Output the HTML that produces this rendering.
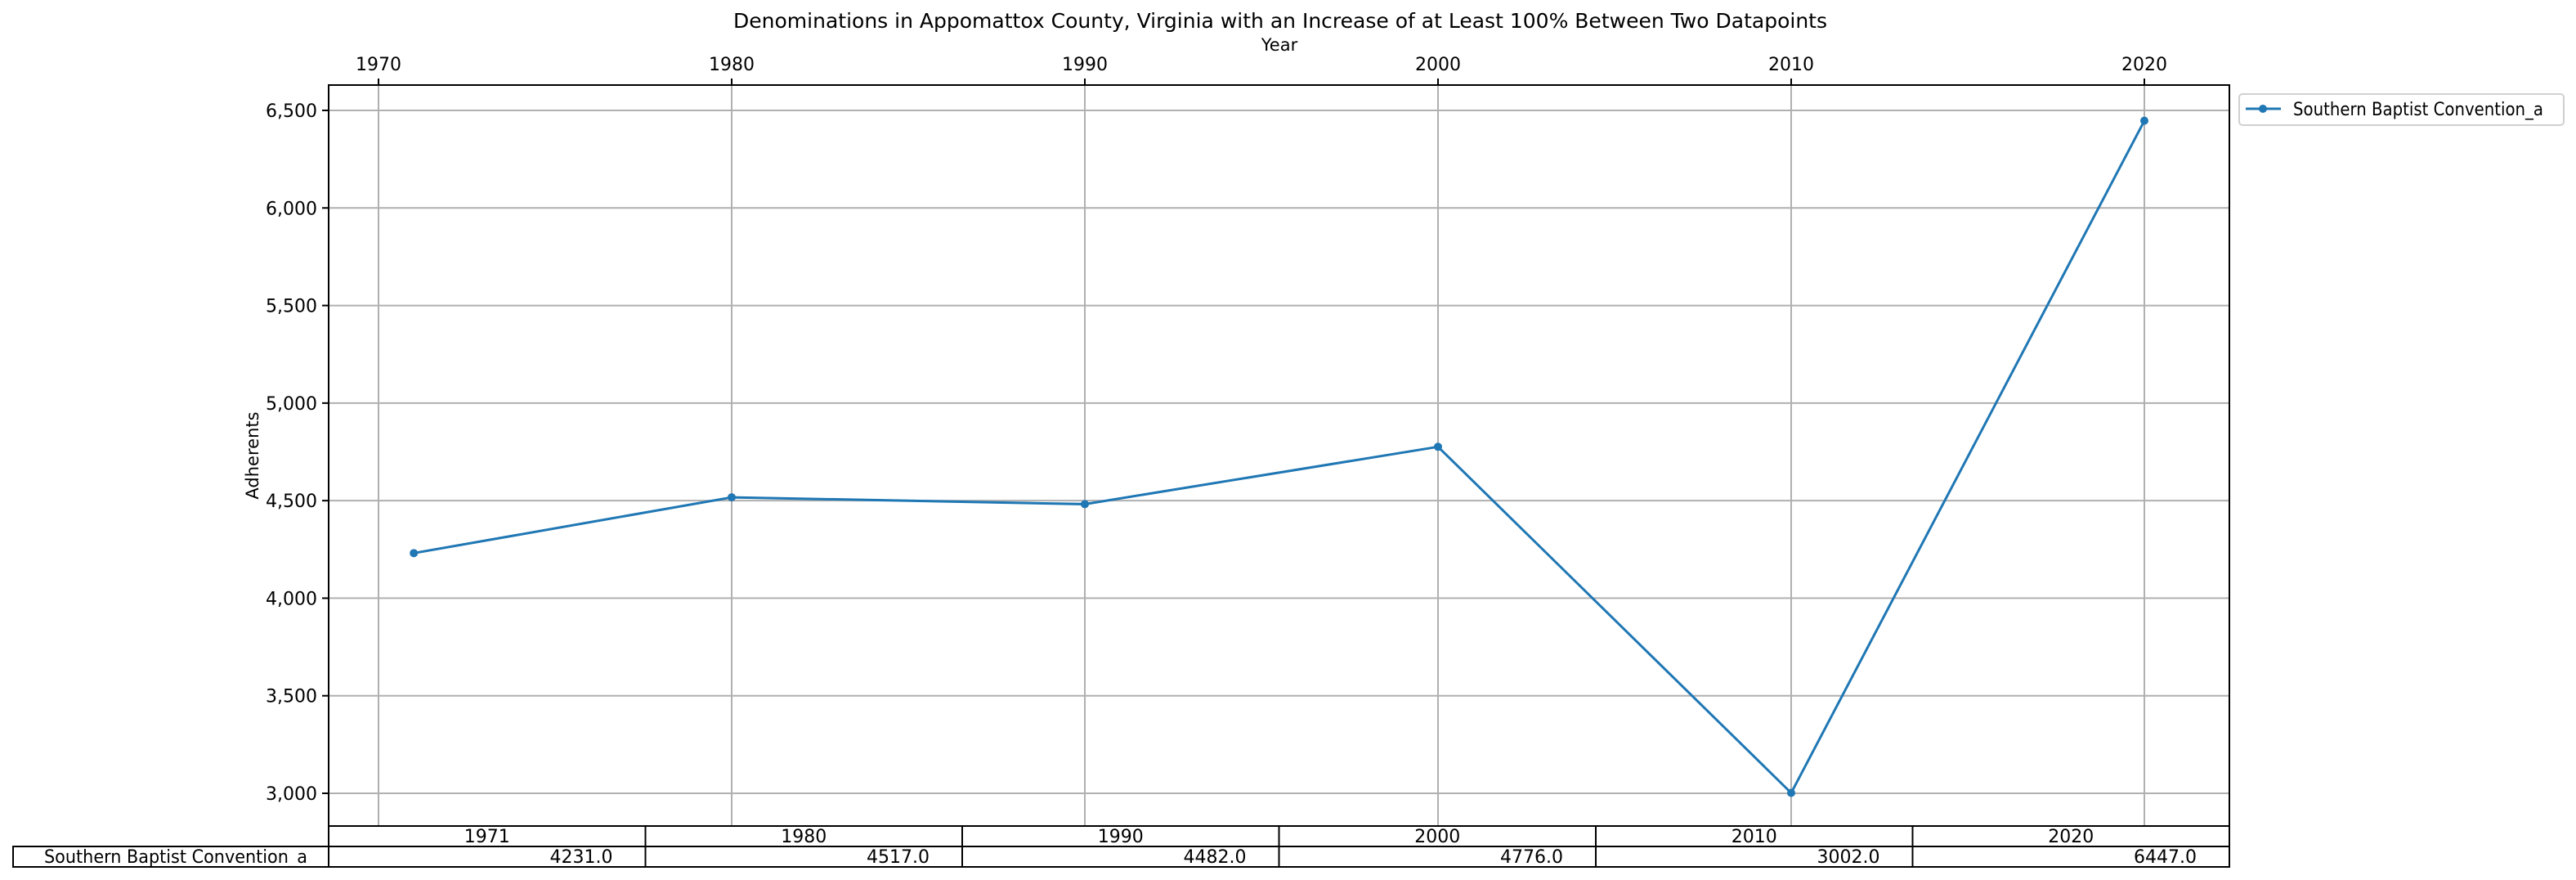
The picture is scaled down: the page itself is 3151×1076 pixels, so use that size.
<!DOCTYPE html>
<html><head><meta charset="utf-8"><style>
body{margin:0;background:#fff;}
svg{display:block;font-family:"DejaVu Sans","Liberation Sans",sans-serif;}
</style></head><body>
<svg id="c" width="3151" height="1076" viewBox="0 0 3151 1076"></svg>
<script>
const years=[1971,1980,1990,2000,2010,2020];
const values=[4231,4517,4482,4776,3002,6447];
const yTicks=[3000,3500,4000,4500,5000,5500,6000,6500];
const xTicks=[1970,1980,1990,2000,2010,2020];
const seriesName="Southern Baptist Convention_a";

const L=402,R=2727,T=104,B=1010;
const x=v=>463+(v-1970)*43.2;
const y=v=>970-(v-3000)*(970-135)/3500;
const svg=document.getElementById('c');
const NS='http://www.w3.org/2000/svg';
function el(tag,attrs,parent){const e=document.createElementNS(NS,tag);for(const k in attrs)e.setAttribute(k,attrs[k]);(parent||svg).appendChild(e);return e;}
function txt(s,attrs){const e=el('text',attrs);e.textContent=s;return e;}

let t=txt("Denominations in Appomattox County, Virginia with an Increase of at Least 100% Between Two Datapoints",{x:1566,y:34,'font-size':25,'text-anchor':'middle',fill:'#000',textLength:1338,lengthAdjust:'spacingAndGlyphs'});

t=txt("Year",{x:1565,y:62,'font-size':21,'text-anchor':'middle'});

t=txt("Adherents",{x:316,y:557,'font-size':21,'text-anchor':'middle',transform:'rotate(-90 316 557)'});


yTicks.forEach(v=>{
  const g=el('line',{x1:L,x2:R,y1:y(v),y2:y(v),stroke:'#b0b0b0','stroke-width':2});
  
  el('line',{x1:L-8,x2:L,y1:y(v),y2:y(v),stroke:'#000','stroke-width':2});
  const l=txt(v.toLocaleString('en-US'),{x:L-14,y:y(v)+8,'font-size':22,'text-anchor':'end'});
  
});
xTicks.forEach(v=>{
  const g=el('line',{x1:x(v),x2:x(v),y1:T,y2:B,stroke:'#b0b0b0','stroke-width':2});
  
  el('line',{x1:x(v),x2:x(v),y1:T-8,y2:T,stroke:'#000','stroke-width':2});
  const l=txt(String(v),{x:x(v),y:86,'font-size':22,'text-anchor':'middle'});
  
});
const fr=el('rect',{x:L,y:T,width:R-L,height:B-T,fill:'none',stroke:'#000','stroke-width':2});


const pl=el('polyline',{points:years.map((yr,i)=>x(yr)+','+y(values[i])).join(' '),fill:'none',stroke:'#1f77b4','stroke-width':3});

years.forEach((yr,i)=>{
  const p=el('circle',{cx:x(yr),cy:y(values[i]),r:5,fill:'#1f77b4'});
  
});

// legend
const lg=el('rect',{x:2739,y:115,width:397,height:38,rx:4,fill:'#fff',stroke:'#d0d0d0','stroke-width':2});

el('line',{x1:2747,x2:2790,y1:133,y2:133,stroke:'#1f77b4','stroke-width':3});
el('circle',{cx:2768,cy:133,r:5,fill:'#1f77b4'});
t=txt(seriesName,{x:2805,y:141,'font-size':22,textLength:306,lengthAdjust:'spacingAndGlyphs'});


// table
const cw=(R-L)/6, r1=B, r2=1035, r3=1060;
years.forEach((yr,i)=>{
  const cx=L+i*cw;
  el('rect',{x:cx,y:r1,width:cw,height:r2-r1,fill:'none',stroke:'#000','stroke-width':2});
  el('rect',{x:cx,y:r2,width:cw,height:r3-r2,fill:'none',stroke:'#000','stroke-width':2});
  const h=txt(String(yr),{x:cx+cw/2,y:r2-5,'font-size':22,'text-anchor':'middle'});
  
  const d=txt(values[i].toFixed(1),{x:cx+cw-40,y:r3-5,'font-size':22,'text-anchor':'end'});
  
});
el('rect',{x:16,y:r2,width:L-16,height:r3-r2,fill:'none',stroke:'#000','stroke-width':2});
t=txt(seriesName,{x:215,y:r3-5,'font-size':22,'text-anchor':'middle',textLength:322,lengthAdjust:'spacingAndGlyphs'});

</script>
</body></html>
